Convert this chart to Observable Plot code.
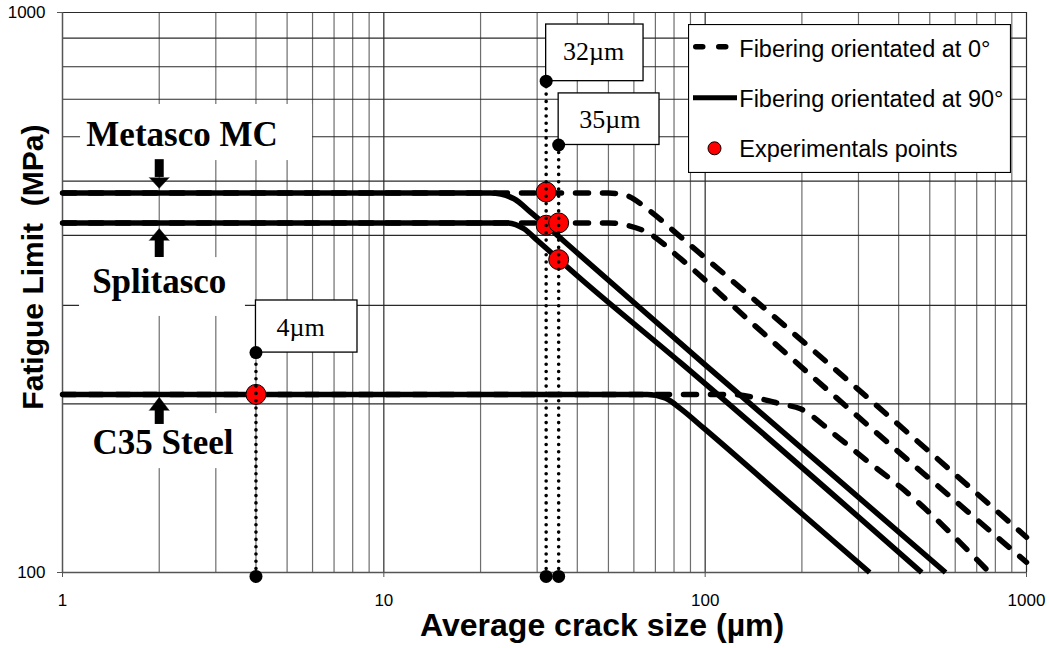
<!DOCTYPE html>
<html><head><meta charset="utf-8">
<script src="https://cdn.jsdelivr.net/npm/d3@7"></script>
<script src="https://cdn.jsdelivr.net/npm/@observablehq/plot@0.6"></script>
<style>
body{margin:0;background:#fff;}
#wrap{position:relative;width:1049px;height:648px;}
#legend{position:absolute;left:688px;top:24px;}
</style></head><body><div id="wrap"></div>
<script>
// ---- axis ticks & grid ----
const xTickValues = [1, 10, 100, 1000];
const yTickValues = [100, 1000];
const xGridMinor = [2,3,4,5,6,7,8,9,20,30,40,50,60,70,80,90,200,300,400,500,600,700,800,900];
const xGridMajor = [10, 100, 1000];
const yGrid = [200,300,400,500,600,700,800,900,1000];

// ---- curves: [crack size (µm), fatigue limit (MPa)] ----
const metasco0   = [[1,476],[50,476],[57,471],[66,446],[84,397],[135,315],[1000,115.6]];
const splitasco0 = [[1,421],[50,421],[57,417],[66,405],[84,363],[135,284],[1000,104.3]];
const c35_0      = [[1,208],[120,208],[150,204],[172,200],[198,196],[251,177],[320,158],[406,142],[767,100]];
const metasco90  = [[1,476],[21.5,476],[25.4,465],[28.6,440],[40.9,368],[99,236],[560,100]];
const splitasco90= [[1,421],[24.2,421],[27.3,411],[30,392],[40.9,335],[83.8,237],[472,100]];
const c35_90     = [[1,208],[66,208],[75,205],[84,196],[99,181],[198,128],[325,100]];

// ---- experimental points ----
const expX = [4, 32, 32, 35, 35];
const expY = [208, 478, 417, 421, 362];

// ---- crack size markers ----
const markerX = [4, 32, 35];
const markerTop = [247, 754, 580];
const markerBottom = [98.4, 98.4, 98.4];
const markerLabels = ["4µm", "32µm", "35µm"];

// ---- material labels ----
const materialNames = ["Metasco MC", "Splitasco", "C35 Steel"];

const pts = (a) => a.map(d => ({x: d[0], y: d[1]}));

const labelBoxes = [
  {x1:1.138, x2:6.0,  y1:544,   y2:685},
  {x1:1.13,  x2:3.71, y1:286.6, y2:365},
  {x1:1.114, x2:3.58, y1:153.3, y2:192.2}
];
const labelPos = [
  {text: materialNames[0], x:2.355, y:604},
  {text: materialNames[1], x:2.0,   y:329.8},
  {text: materialNames[2], x:2.055, y:170.8}
];
const arrowShafts = [
  {x:2, y1:546,   y2:507.5},
  {x:2, y1:391.6, y2:365.2},
  {x:2, y1:194.7, y2:183.8}
];
const arrowHeads = [
  {x:2, y:507.5, rot:180, len:10},
  {x:2, y:391.6, rot:0,   len:11},
  {x:2, y:194.7, rot:0,   len:12}
];
const annBoxes = [
  {x1:4,  x2:8.28, y1:247, y2:306},
  {x1:32, x2:64.3, y1:754, y2:951.8},
  {x1:35, x2:72.1, y1:580, y2:717}
];
const annText = [
  {text: markerLabels[0], x:5.505, y:273.8},
  {text: markerLabels[1], x:44.96, y:851.6},
  {text: markerLabels[2], x:50.5,  y:643}
];
const markers = markerX.map((x,i) => ({x, top: markerTop[i], bottom: markerBottom[i]}));
const expPts = expX.map((x,i) => ({x, y: expY[i]}));

const dashed = {stroke:"black", strokeWidth:5.5, strokeDasharray:"13,14", strokeLinecap:"round", curve:"monotone-x"};
const solid = {stroke:"black", strokeWidth:5.5, strokeLinecap:"butt", curve:"monotone-x"};

const chart = Plot.plot({
  width: 1049, height: 648,
  marginLeft: 62, marginRight: 23, marginTop: 12, marginBottom: 76,
  x: {type: "log", domain: [1, 1000]},
  y: {type: "log", domain: [100, 1000]},
  style: {fontFamily: "'Liberation Sans', Arial, sans-serif", fontSize: "17px", background: "white", color: "black", overflow: "visible"},
  marks: [
    Plot.ruleX(xGridMinor, {stroke: "#6e6e6e", strokeWidth: 1.2}),
    Plot.ruleX(xGridMajor, {stroke: "#2a2a2a", strokeWidth: 1.2}),
    Plot.ruleY(yGrid, {stroke: "#2a2a2a", strokeWidth: 1.2}),
    Plot.ruleX([1], {stroke: "#555", strokeWidth: 1.5}),
    Plot.ruleY([100], {stroke: "#555", strokeWidth: 1.5}),
    Plot.axisX({ticks: xTickValues, tickFormat: d => String(d), tickSize: 5, tickPadding: 16, fontSize: 17, label: null, stroke: "#555"}),
    Plot.axisY({ticks: yTickValues, tickFormat: d => String(d), tickSize: 5, tickPadding: 12, fontSize: 17, label: null, stroke: "#555"}),
    Plot.rect(labelBoxes, {x1:"x1", x2:"x2", y1:"y1", y2:"y2", fill:"white"}),
    Plot.rect(annBoxes, {x1:"x1", x2:"x2", y1:"y1", y2:"y2", fill:"white", stroke:"black", strokeWidth:1.3}),
    Plot.line(pts(metasco0), {x:"x", y:"y", ...dashed}),
    Plot.line(pts(splitasco0), {x:"x", y:"y", ...dashed}),
    Plot.line(pts(c35_0), {x:"x", y:"y", ...dashed}),
    Plot.line(pts(metasco90), {x:"x", y:"y", ...solid}),
    Plot.line(pts(splitasco90), {x:"x", y:"y", ...solid}),
    Plot.line(pts(c35_90), {x:"x", y:"y", ...solid}),
    Plot.ruleX(arrowShafts, {x:"x", y1:"y1", y2:"y2", stroke:"black", strokeWidth:9}),
    Plot.vector(arrowHeads, {x:"x", y:"y", rotate:"rot", length:"len", shape:"spike", anchor:"start", r:10, fill:"black", stroke:"black", strokeWidth:0.5}),
    Plot.dot(expPts, {x:"x", y:"y", r:10, fill:"#ff0000", stroke:"black", strokeWidth:1}),
    Plot.ruleX(markers, {x:"x", y1:"bottom", y2:"top", stroke:"black", strokeWidth:3.6, strokeDasharray:"0,7.3", strokeLinecap:"round"}),
    Plot.dot(markers, {x:"x", y:"top", r:6.5, fill:"black"}),
    Plot.dot(markers, {x:"x", y:"bottom", r:6.5, fill:"black"}),
    Plot.text(labelPos, {x:"x", y:"y", text:"text", fontFamily:"'Liberation Serif', 'Times New Roman', serif", fontWeight:"bold", fontSize:35, fill:"black"}),
    Plot.text(annText, {x:"x", y:"y", text:"text", fontFamily:"'Liberation Serif', 'Times New Roman', serif", fontSize:26, fill:"black"}),
    Plot.text([{t:"Average crack size (µm)", x:47.8}], {x:"x", text:"t", frameAnchor:"bottom", dy:52.8, textAnchor:"middle", lineAnchor:"middle", fontSize:32, fontWeight:"bold", fill:"black"}),
    Plot.text([{t:"Fatigue Limit\u00a0 (MPa)", y:351}], {y:"y", text:"t", frameAnchor:"left", dx:-29.6, textAnchor:"middle", lineAnchor:"middle", rotate:-90, fontSize:30, fontWeight:"bold", fill:"black"})
  ]
});

const wrap = document.getElementById("wrap");
wrap.appendChild(chart);

const legendItems = ["Fibering orientated at 0°", "Fibering orientated at 90°", "Experimentals points"];
const ns = "http://www.w3.org/2000/svg";
const lg = document.createElementNS(ns, "svg");
lg.setAttribute("id", "legend");
lg.setAttribute("width", 323); lg.setAttribute("height", 149);
lg.innerHTML = `
<rect x="0.5" y="0.5" width="322" height="148" fill="white" stroke="black" stroke-width="1.2"/>
<line x1="7.75" x2="41.25" y1="22.7" y2="22.7" stroke="black" stroke-width="5.5" stroke-dasharray="7,16" stroke-linecap="round"/>
<line x1="5" x2="49" y1="73.7" y2="73.7" stroke="black" stroke-width="5"/>
<circle cx="26.5" cy="124.3" r="6.5" fill="#ff0000" stroke="black" stroke-width="1"/>
`;
const baselines = [33.3, 82.7, 132.7];
legendItems.forEach((t, i) => {
  const tx = document.createElementNS(ns, "text");
  tx.setAttribute("x", 51.3); tx.setAttribute("y", baselines[i]);
  tx.setAttribute("font-family", "'Liberation Sans', Arial, sans-serif");
  tx.setAttribute("font-size", "23.5");
  tx.textContent = t;
  lg.appendChild(tx);
});
wrap.appendChild(lg);
</script></body></html>
